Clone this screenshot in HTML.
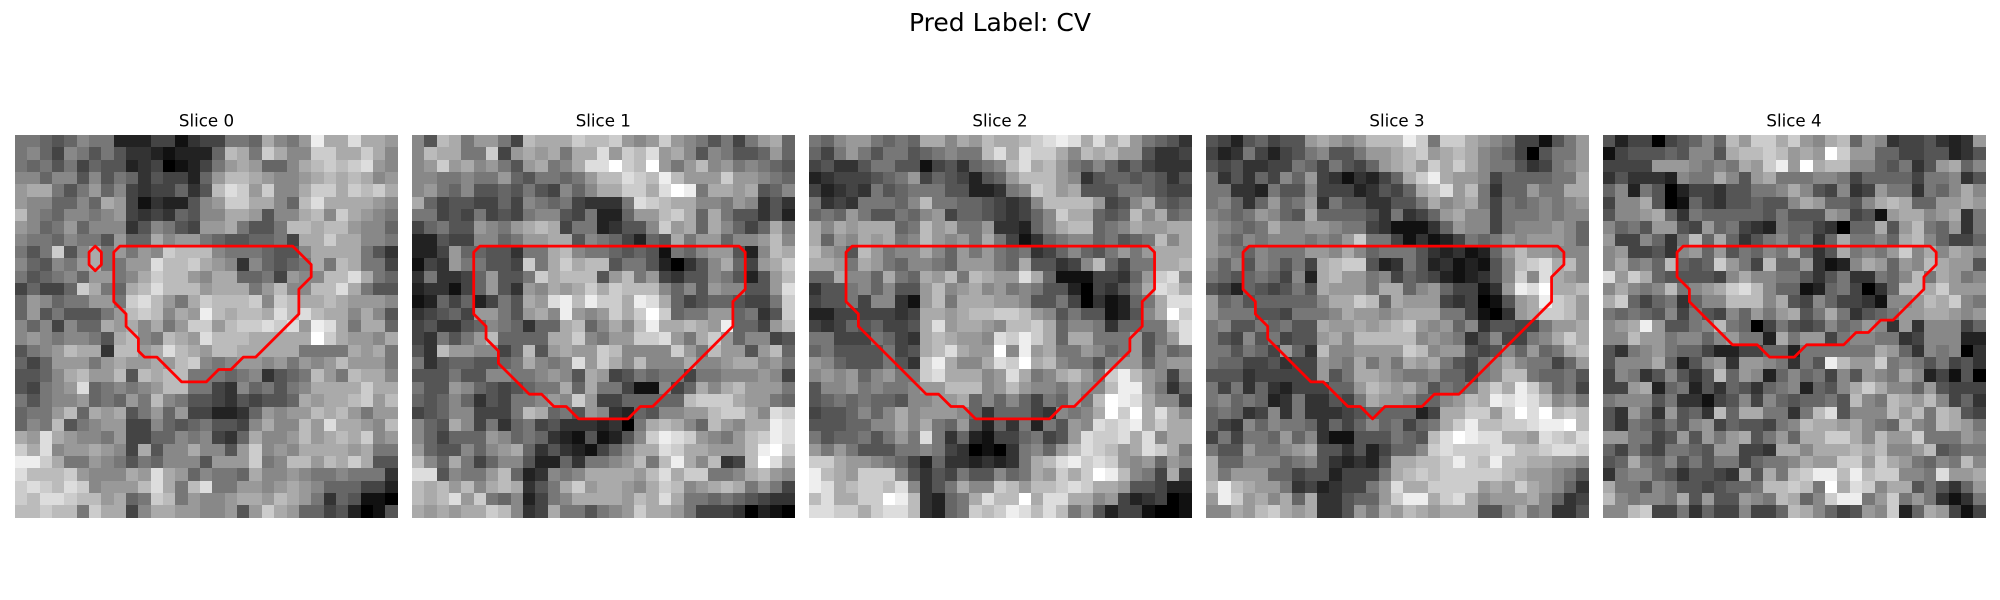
<!DOCTYPE html>
<html lang="en">
<head>
<meta charset="utf-8">
<title>Pred Label: CV</title>
<style>
html,body{margin:0;padding:0;background:#fff;width:2000px;height:600px;overflow:hidden}
svg{display:block}
text{font-family:"DejaVu Sans","Liberation Sans",sans-serif;fill:#000;text-anchor:middle}
</style>
</head>
<body>
<svg id="figure" width="2000" height="600" viewBox="0 0 2000 600" xmlns="http://www.w3.org/2000/svg">
<rect width="2000" height="600" fill="#fff"/>
<text x="1000" y="31" font-size="25px">Pred Label: CV</text>
<text x="206.5" y="126.5" font-size="16.67px">Slice 0</text>
<text x="603.3" y="126.5" font-size="16.67px">Slice 1</text>
<text x="1000" y="126.5" font-size="16.67px">Slice 2</text>
<text x="1397" y="126.5" font-size="16.67px">Slice 3</text>
<text x="1794" y="126.5" font-size="16.67px">Slice 4</text>
</svg>
<script>
const slice0 = [
[7,7,6,5,6,8,7,7,2,2,2,4,4,1,3,4,4,7,7,6,10,8,7,9,14,10,10,13,10,10,9],
[7,8,6,4,8,7,5,7,5,3,3,2,1,2,2,2,6,11,10,7,12,10,8,8,12,12,10,10,12,10,8],
[7,6,7,5,7,4,6,5,5,2,3,4,0,1,2,4,7,9,10,9,6,6,8,10,11,12,11,12,13,9,8],
[8,8,6,8,8,5,8,5,7,6,3,5,4,4,2,6,9,11,11,10,9,8,8,9,10,11,10,11,10,8,9],
[9,10,10,7,5,7,9,6,8,4,3,4,4,6,3,5,11,13,12,9,12,8,8,10,12,12,10,12,11,12,10],
[9,8,8,6,6,8,6,10,9,4,1,3,2,2,5,8,9,12,12,10,10,8,6,11,13,10,10,10,10,9,8],
[11,8,7,6,8,8,7,8,9,4,3,4,3,6,5,8,8,10,10,9,5,8,8,10,11,8,12,10,9,8,7],
[9,8,6,7,9,6,8,8,8,3,5,8,7,5,4,9,9,10,7,5,5,7,11,11,10,11,11,9,8,8,6],
[8,7,7,6,8,7,7,5,9,6,6,10,8,9,9,7,6,5,5,6,6,7,4,10,10,12,10,10,8,8,7],
[7,5,7,12,5,8,10,7,9,7,9,8,12,11,11,11,8,7,7,7,6,5,5,8,10,10,10,10,7,5,3],
[8,6,5,8,7,9,10,7,7,9,9,13,11,11,12,10,9,8,3,8,6,5,6,7,10,7,11,10,7,7,4],
[7,5,6,7,8,6,9,9,7,8,10,12,11,11,9,8,10,10,6,6,7,4,9,8,8,11,11,13,10,7,6],
[4,6,4,4,6,12,10,7,6,10,11,13,11,11,11,9,10,10,10,7,9,11,8,8,11,11,13,10,7,5,5],
[6,9,8,6,7,7,9,9,7,12,13,11,9,7,10,12,11,11,11,12,8,12,11,10,10,11,10,9,9,9,8],
[6,9,5,7,5,5,5,7,9,11,12,11,8,10,9,14,11,10,11,11,10,13,11,13,11,10,10,8,10,8,5],
[8,6,8,4,8,6,6,10,9,10,8,10,7,9,12,12,9,11,12,12,13,12,13,9,14,13,10,7,10,10,6],
[8,9,8,7,8,8,7,5,10,11,8,7,11,10,9,13,11,11,11,10,10,10,10,10,15,12,10,9,9,8,10],
[5,7,8,9,11,10,10,3,11,11,9,10,13,11,10,9,11,11,10,10,10,10,10,7,7,7,7,10,9,10,7],
[6,4,6,9,9,9,7,9,10,9,9,10,9,11,12,8,7,8,9,9,8,9,7,9,8,9,11,9,9,9,7],
[5,5,6,8,10,11,9,9,11,5,11,10,11,11,7,7,7,6,7,8,3,5,6,7,11,9,7,11,10,10,8],
[5,4,7,8,9,13,6,7,8,7,8,9,11,11,7,7,4,3,8,6,7,5,7,8,10,10,10,10,12,10,10],
[7,5,7,8,8,9,6,7,6,9,7,11,8,7,5,5,4,3,5,4,5,5,6,10,9,10,10,11,12,9,11],
[6,7,7,9,11,6,10,9,10,5,7,9,6,9,4,4,2,2,3,6,9,8,9,9,11,10,11,9,7,9,9],
[6,8,7,11,5,7,8,9,9,4,4,8,6,5,6,7,5,5,4,8,10,8,8,11,9,13,10,10,9,8,11],
[10,9,13,10,9,8,8,7,9,4,4,6,6,8,7,8,4,3,6,10,8,8,9,11,9,10,11,10,12,8,9],
[12,10,13,8,9,9,10,9,8,4,10,5,8,8,10,8,8,5,9,12,8,9,8,10,10,10,10,9,10,7,7],
[14,14,12,10,7,7,9,8,7,5,7,6,8,8,8,5,9,9,9,12,7,8,11,11,9,11,10,12,10,5,5],
[13,11,11,11,12,9,8,8,8,10,9,13,10,9,6,8,7,7,6,10,8,8,9,8,7,7,8,7,7,7,3],
[12,13,12,11,13,12,8,9,9,9,11,13,10,7,11,13,7,7,9,9,8,9,10,9,8,6,6,6,4,4,2],
[12,11,13,13,12,11,11,9,10,6,7,12,11,7,9,8,8,9,10,10,9,11,10,9,7,3,6,5,1,1,0],
[11,11,12,11,11,7,12,10,10,4,8,10,10,9,9,8,8,9,5,9,12,10,9,6,6,4,5,2,0,1,5]
];
const slice1 = [
[8,5,11,10,7,9,9,7,4,11,10,10,10,12,11,11,12,9,8,9,12,9,8,7,5,7,4,7,9,10,6],
[8,11,10,10,7,7,12,4,9,10,9,10,7,10,10,13,9,12,11,13,9,10,8,5,8,7,5,5,6,9,6],
[8,9,12,9,10,8,9,7,5,9,10,7,8,10,13,13,15,12,11,15,9,7,9,11,8,9,7,8,7,6,5],
[8,8,7,7,8,7,7,9,6,5,7,7,6,7,9,11,11,13,12,11,14,11,9,9,9,12,9,9,8,7,6],
[8,9,7,6,8,5,5,6,5,7,5,4,8,6,8,10,10,12,12,10,13,15,14,7,10,10,9,10,5,6,8],
[10,6,4,5,5,4,4,6,4,8,7,6,7,4,3,3,3,7,13,12,11,10,10,8,8,7,9,8,3,5,3],
[7,7,4,5,4,7,4,5,4,7,8,8,5,4,7,2,2,6,9,9,11,12,10,6,10,7,5,5,3,5,2],
[4,6,7,5,5,9,8,7,9,10,11,10,4,7,7,2,3,5,5,8,12,9,10,6,10,8,6,4,6,10,7],
[2,2,5,4,4,8,8,6,7,9,9,10,10,5,8,7,6,4,2,6,5,10,7,9,9,6,8,8,9,11,8],
[2,2,4,9,6,6,5,5,3,7,7,10,11,8,7,7,6,5,6,5,1,7,6,8,9,9,5,2,8,11,10],
[1,4,3,9,7,7,5,5,4,12,7,10,12,10,11,11,5,7,7,5,2,0,3,5,8,10,6,4,9,10,12],
[3,7,3,3,4,6,9,5,5,7,12,10,11,11,11,5,9,11,7,9,4,3,5,5,8,7,5,2,5,9,11],
[2,3,3,1,4,6,9,5,3,9,8,10,9,10,12,10,12,11,11,11,8,6,8,5,9,8,8,5,5,9,13],
[1,2,6,4,6,2,4,7,5,10,9,13,14,11,14,12,12,10,14,13,10,6,4,5,6,6,5,4,4,7,12],
[3,4,5,6,4,9,9,7,5,9,10,8,14,9,8,9,12,10,12,15,12,6,7,7,9,9,6,7,3,5,12],
[4,5,3,3,5,6,8,7,6,3,6,6,10,11,6,8,10,8,11,14,10,10,11,10,9,14,6,6,4,9,11],
[4,3,7,5,7,9,11,6,6,6,6,10,10,12,8,7,9,9,12,12,13,9,7,10,12,9,6,8,8,4,5],
[5,3,11,9,9,8,8,4,6,11,5,9,10,9,9,12,11,8,8,8,8,12,9,7,11,9,9,5,9,11,6],
[7,3,5,6,6,5,5,6,7,10,8,7,8,13,9,12,10,8,11,8,8,8,10,8,8,9,10,10,8,9,7],
[5,5,5,7,5,5,8,8,7,7,8,9,8,5,10,9,4,5,7,6,7,7,4,7,7,8,8,8,9,8,4],
[7,5,5,9,8,6,5,4,5,6,7,7,10,6,10,7,7,4,1,1,8,4,6,10,8,10,11,9,9,9,7],
[6,5,6,8,6,3,5,4,7,7,8,9,8,12,9,4,4,6,6,6,6,6,11,12,12,12,10,9,9,7,6],
[4,5,6,8,8,4,4,4,7,11,10,6,7,5,9,8,3,2,6,5,8,8,9,9,11,12,12,10,8,13,12],
[8,6,5,10,8,4,7,3,6,7,4,5,3,3,3,2,3,0,7,10,11,10,8,6,11,9,8,10,10,14,13],
[8,6,4,6,6,6,9,8,6,7,6,3,2,1,5,1,2,5,8,12,14,13,12,9,8,7,9,11,12,14,13],
[9,6,5,5,8,6,8,9,10,6,3,5,3,2,1,4,6,8,10,10,13,12,10,10,9,9,9,11,14,15,12],
[11,8,6,10,7,4,6,8,8,5,2,2,6,3,7,7,8,9,11,7,11,14,10,8,11,3,4,11,15,13,10],
[13,13,5,8,7,7,9,11,6,2,3,8,7,8,10,10,10,10,9,11,13,10,12,12,7,7,8,10,11,9,8],
[11,10,11,9,11,8,10,11,10,3,5,7,10,12,9,10,10,9,8,10,12,11,8,9,10,11,10,7,9,7,4],
[11,10,11,13,9,12,7,6,8,2,4,7,8,10,10,10,10,9,11,10,13,10,7,7,6,7,6,5,4,3,3],
[10,9,10,9,10,10,12,11,8,3,4,10,7,7,5,7,8,9,12,10,10,9,7,4,4,4,3,0,2,1,0]
];
const slice2 = [
[7,6,8,9,9,7,6,7,6,10,10,8,10,9,11,10,10,11,12,13,14,13,10,13,10,12,9,7,6,5,3],
[6,4,7,9,7,5,7,7,5,6,7,8,7,7,11,13,10,13,12,12,10,8,11,10,11,9,9,5,3,3,4],
[4,5,3,3,5,7,7,5,5,1,4,5,3,6,7,8,11,13,10,11,9,7,6,8,6,4,6,4,3,3,3],
[2,3,4,4,4,5,6,7,9,4,6,5,4,2,5,6,9,11,11,11,9,8,3,5,6,6,5,6,5,3,5],
[4,2,3,4,3,7,5,6,7,7,7,5,5,2,2,3,7,8,12,11,9,10,5,5,5,7,7,6,5,4,4],
[7,3,4,3,7,7,7,6,8,11,7,7,6,6,5,4,3,4,8,11,11,11,11,9,4,5,8,10,6,5,6],
[6,7,6,9,7,5,5,7,6,8,9,4,6,6,5,4,3,4,6,8,12,10,10,6,5,6,11,8,10,6,7],
[10,8,10,9,10,10,10,6,7,11,9,10,7,7,9,3,3,2,6,8,10,11,11,6,7,8,10,9,9,10,10],
[10,6,9,8,10,9,10,7,8,11,9,8,9,7,10,7,4,1,3,6,7,8,8,6,7,5,6,7,11,8,10],
[11,9,8,5,11,9,7,8,8,10,8,6,9,7,9,7,6,7,3,4,6,8,6,5,7,9,7,9,10,10,10],
[10,10,9,7,10,9,7,6,8,8,7,6,9,9,9,7,6,10,5,5,3,4,8,11,6,4,7,7,10,10,11],
[6,6,10,8,8,6,10,7,6,10,9,11,7,11,10,9,9,13,10,6,1,1,1,4,4,3,6,9,12,13,8],
[3,5,5,7,8,6,8,5,5,9,11,8,9,10,8,9,7,8,7,5,5,2,0,4,3,5,7,10,13,12,10],
[4,5,5,7,4,8,8,3,1,9,11,7,10,10,10,9,9,8,5,5,7,4,0,3,1,2,6,7,10,13,13],
[2,2,4,4,4,4,4,3,4,10,10,9,10,11,11,12,12,11,9,8,5,7,5,5,1,2,5,8,10,15,12],
[4,3,4,6,5,6,4,4,5,10,13,9,10,10,9,8,11,11,12,10,6,8,8,7,3,6,6,7,7,11,13],
[7,7,4,4,4,7,6,4,3,10,11,10,9,9,8,13,12,14,12,10,6,10,10,7,7,7,9,5,7,9,13],
[6,7,5,5,5,5,7,4,5,10,11,13,10,9,9,15,8,14,9,10,7,7,9,8,6,7,9,5,8,6,7],
[9,8,6,5,5,5,7,5,3,12,14,10,8,8,10,13,12,15,10,11,8,7,7,5,8,9,9,6,8,9,9],
[8,9,8,9,6,8,9,7,7,12,13,10,10,10,8,9,13,10,7,8,10,11,9,7,12,14,11,9,8,4,8],
[5,8,8,9,7,8,7,7,8,9,9,11,11,11,8,9,11,9,8,8,7,9,8,8,11,14,14,9,7,3,6],
[5,6,7,6,7,6,6,5,8,8,9,9,10,6,8,6,8,6,4,7,6,9,7,11,15,14,13,10,8,8,4],
[4,5,5,6,8,6,8,10,8,9,9,9,8,6,3,6,6,6,4,3,8,7,8,10,15,12,15,10,13,10,8],
[5,5,5,6,6,8,8,10,8,10,7,6,9,5,2,6,3,7,2,7,5,9,8,13,12,13,14,10,12,10,10],
[7,5,6,6,7,5,7,9,7,13,7,3,6,2,1,4,4,6,7,4,5,9,13,12,12,13,10,13,8,10,10],
[9,7,9,7,5,5,5,7,7,8,7,4,3,0,1,0,3,7,8,6,9,11,13,12,11,9,10,13,12,10,7],
[12,12,10,9,9,8,7,6,4,2,6,3,3,2,3,2,3,7,10,11,13,14,12,13,12,9,8,9,6,9,8],
[14,11,10,9,12,12,12,8,5,3,5,4,7,5,5,8,6,7,10,9,12,10,12,15,14,11,8,7,4,10,4],
[14,13,10,11,12,12,11,13,8,3,5,7,10,8,8,12,11,9,11,11,12,13,12,10,10,9,5,5,4,2,2],
[11,13,10,10,12,12,15,14,11,3,2,6,7,10,13,11,11,15,10,13,13,10,10,8,9,4,2,3,4,0,1],
[13,13,12,12,10,12,13,13,11,3,2,6,7,12,11,12,14,13,11,13,11,7,9,5,2,4,4,1,0,0,1]
];
const slice3 = [
[5,4,2,5,6,4,5,5,9,10,9,8,9,11,11,11,14,12,7,12,12,10,9,8,7,4,4,1,5,7,9],
[4,2,3,7,4,2,4,5,7,8,5,5,7,9,9,10,11,12,9,10,11,10,8,7,6,4,0,5,7,7,9],
[5,4,5,3,3,4,4,7,6,4,7,5,4,6,9,10,11,9,12,10,12,10,8,7,7,5,3,4,7,8,9],
[7,3,5,3,6,4,8,6,9,4,3,1,3,2,4,6,10,12,14,10,9,9,8,4,6,6,6,6,7,7,10],
[7,7,3,3,2,7,5,5,8,4,4,4,2,3,5,4,6,10,11,13,9,11,7,3,6,6,9,7,7,10,10],
[7,8,6,3,6,9,6,7,9,3,7,5,5,3,3,5,5,7,10,8,9,10,7,4,7,6,7,8,7,8,9],
[8,7,6,7,9,8,6,5,10,6,6,6,6,5,3,7,3,4,6,9,10,8,8,4,7,7,7,8,7,8,8],
[9,8,7,6,7,10,8,8,9,9,8,7,7,4,3,1,1,1,3,6,9,8,8,4,7,8,8,8,9,8,6],
[9,7,6,8,7,8,8,8,7,8,7,9,12,7,7,4,1,3,1,2,4,7,6,7,9,8,9,9,9,8,6],
[9,8,7,6,8,7,7,7,9,9,8,10,8,6,7,7,7,5,3,2,3,1,2,6,9,11,9,9,8,8,8],
[8,6,8,5,8,7,5,7,4,10,11,12,12,5,2,3,7,5,2,3,1,2,1,5,8,11,12,13,10,11,8],
[7,6,5,6,7,6,4,8,2,10,11,9,9,7,8,4,6,5,4,2,1,2,3,5,8,12,8,13,10,9,8],
[5,4,2,6,5,4,5,7,5,10,9,9,9,7,10,10,6,8,9,6,4,4,1,3,9,14,13,15,10,10,11],
[9,6,7,5,6,6,6,6,6,8,10,10,12,11,6,10,9,9,9,4,3,4,0,1,5,9,10,14,12,11,9],
[9,7,7,7,5,5,4,7,7,7,8,10,9,9,8,9,10,10,10,7,7,4,1,0,3,9,10,12,12,11,9],
[7,8,5,5,7,6,7,5,5,10,9,9,10,9,10,11,12,9,8,9,6,8,3,5,5,4,4,7,9,9,10],
[7,5,4,8,5,7,4,5,5,9,10,8,11,11,11,11,11,8,9,8,7,3,5,8,4,4,7,8,10,12,10],
[7,7,5,7,6,4,9,6,3,11,8,8,9,9,9,9,12,11,8,9,9,5,4,5,8,6,9,6,7,10,11],
[7,6,6,4,4,5,3,4,4,9,8,7,10,7,9,7,10,9,10,7,5,4,7,8,10,8,7,7,4,6,9],
[5,5,5,3,4,4,4,4,4,9,5,7,10,10,9,8,7,7,8,6,6,4,7,8,11,11,7,6,6,7,5],
[7,4,7,3,6,3,2,4,4,4,6,6,9,11,10,9,10,8,5,7,6,7,10,12,10,14,12,9,6,7,4],
[7,8,6,7,6,2,3,7,3,3,5,4,7,10,9,9,8,6,6,8,9,11,10,14,13,14,13,11,8,9,7],
[6,7,6,3,4,8,3,7,3,3,3,4,5,6,6,6,6,2,4,10,10,12,12,9,12,15,13,15,11,12,11],
[6,4,3,8,6,8,7,7,6,3,6,4,6,8,6,7,4,6,7,10,12,14,11,11,12,12,13,14,14,15,11],
[4,7,4,7,7,6,9,6,8,3,1,1,5,5,5,7,6,5,11,13,15,14,13,13,10,10,9,13,12,11,13],
[7,5,5,9,7,7,8,9,10,5,5,3,5,2,4,6,6,8,12,13,12,12,12,13,13,11,11,12,13,13,12],
[10,6,6,8,8,8,6,7,8,5,3,2,3,2,5,10,10,11,11,12,14,12,11,14,11,11,10,10,9,9,8],
[10,7,9,9,9,6,6,4,5,5,2,4,4,4,7,10,11,12,11,12,12,12,12,12,11,10,9,9,8,7,5],
[11,14,11,10,9,9,7,3,4,2,3,4,4,7,9,13,10,10,12,12,12,12,9,10,9,12,10,9,8,6,3],
[9,14,12,9,10,8,10,6,10,3,3,5,6,6,9,12,14,14,10,12,13,10,8,9,9,9,10,8,6,3,4],
[8,8,10,9,11,12,10,9,10,3,3,5,9,7,10,9,11,10,9,10,10,10,5,5,8,10,7,8,3,3,5]
];
const slice4 = [
[5,2,4,4,0,4,5,6,8,6,11,9,12,12,10,12,9,8,10,11,6,9,8,3,4,4,5,3,2,3,9],
[1,4,5,5,5,6,5,8,8,5,10,11,11,12,11,9,10,9,15,12,9,9,6,6,4,4,5,5,2,3,5],
[4,4,4,4,9,9,9,8,7,8,7,10,9,12,14,9,15,10,11,11,8,8,6,5,7,3,5,9,10,6,8],
[3,5,3,3,3,2,8,7,7,10,8,5,9,10,7,7,7,8,8,7,4,6,6,6,6,4,7,7,8,3,5],
[6,8,2,7,5,0,2,4,4,3,5,5,7,7,8,10,8,5,4,8,3,4,9,7,7,3,7,6,8,10,8],
[4,8,8,10,5,0,1,6,4,3,5,5,6,5,5,8,10,9,6,6,5,8,10,11,10,6,6,9,9,10,9],
[5,8,8,9,10,6,3,7,6,6,6,6,6,5,7,5,5,5,9,8,4,5,1,9,10,10,8,9,10,3,7],
[8,6,7,5,9,9,5,4,9,6,7,4,3,2,7,6,6,4,3,0,6,6,10,5,9,11,7,6,9,3,7],
[9,4,4,8,6,3,7,11,6,10,6,3,5,7,8,6,7,3,6,10,7,7,8,6,10,11,8,6,4,4,6],
[8,9,4,4,5,3,8,9,6,9,5,7,6,8,7,10,6,3,5,10,7,8,7,9,12,8,10,8,10,9,8],
[8,10,7,8,6,11,6,5,6,12,9,7,4,11,6,6,9,3,1,2,8,10,9,6,9,8,11,10,9,9,5],
[13,9,12,10,6,5,5,5,5,4,8,10,8,8,7,7,5,3,5,7,3,3,7,6,8,11,7,10,9,7,8],
[8,10,8,7,8,11,7,8,9,10,12,13,11,8,6,6,1,2,6,7,4,0,3,6,11,11,10,12,9,9,9],
[10,12,6,4,6,7,3,6,8,8,11,11,11,8,10,5,4,8,6,4,4,3,1,8,8,9,11,10,12,8,7],
[7,6,7,6,5,8,4,7,5,4,8,6,9,7,9,10,5,7,10,7,3,5,6,7,9,9,10,10,9,8,9],
[8,9,10,14,9,5,5,7,8,11,7,6,0,4,7,5,4,5,8,6,7,9,8,3,9,3,8,8,8,4,6],
[8,8,11,9,9,7,8,8,6,8,9,7,7,2,10,7,9,9,4,7,8,8,7,7,3,4,8,8,8,2,2],
[5,3,7,8,9,7,6,6,4,2,2,4,4,6,6,2,7,7,7,7,7,7,10,9,6,3,8,7,8,0,3],
[5,8,8,8,10,6,2,5,8,9,3,9,9,8,7,3,7,5,14,11,9,9,12,7,8,7,5,7,4,5,3],
[4,8,7,3,5,8,5,3,5,11,6,9,8,2,6,8,6,7,4,8,5,9,8,7,10,8,2,4,1,5,0],
[4,4,9,10,2,6,7,2,5,3,6,5,3,6,7,8,2,6,5,8,10,12,10,8,8,6,9,5,4,4,4],
[7,8,8,8,5,7,3,3,1,4,5,8,4,8,6,5,6,6,7,5,11,8,7,11,10,9,11,8,4,6,3],
[5,3,9,7,3,9,5,6,3,11,6,10,10,7,7,3,7,11,13,5,8,8,8,11,9,11,7,11,10,5,4],
[5,3,7,6,5,7,5,8,9,4,6,5,5,4,7,8,11,10,10,9,10,8,7,6,11,8,7,11,10,9,7],
[9,9,7,7,4,5,9,5,9,7,9,10,5,7,9,6,10,10,12,12,10,8,11,9,9,12,7,7,7,9,8],
[6,4,7,5,4,7,7,6,5,9,9,4,4,3,10,10,8,10,10,10,11,10,11,8,8,9,11,5,6,7,7],
[5,6,10,7,6,8,5,7,5,7,7,4,6,7,7,8,10,9,9,12,12,9,12,10,9,7,6,8,7,11,8],
[3,7,8,8,6,5,3,5,5,4,3,10,5,10,7,11,12,14,14,11,14,11,12,12,8,8,7,13,9,9,10],
[10,7,7,5,8,7,5,5,4,5,6,6,7,11,11,12,11,7,15,10,13,12,8,10,10,5,7,5,3,6,9],
[11,8,7,8,8,7,10,5,9,5,5,9,8,7,11,10,6,8,12,14,14,7,9,12,7,9,7,3,1,3,7],
[8,8,11,12,4,4,7,3,6,4,4,8,4,4,6,11,10,8,6,4,5,9,8,12,2,6,10,9,4,1,4]
];
const contour0a = [[8.5,9],[22.5,9],[24,10.5],[24,11.5],[23,12.5],[23,14.5],[19.5,18],[18.5,18],[17.5,19],[16.5,19],[15.5,20],[13.5,20],[11.5,18],[10.5,18],[10,17.5],[10,16.5],[9,15.5],[9,14.5],[8,13.5],[8,9.5]];
const contour0b = [[6.5,9],[7,9.5],[7,10.5],[6.5,11],[6,10.5],[6,9.5]];
const contour1 = [[5.5,9],[26.5,9],[27,9.5],[27,12.5],[26,13.5],[26,15.5],[19.5,22],[18.5,22],[17.5,23],[13.5,23],[12.5,22],[11.5,22],[10.5,21],[9.5,21],[7,18.5],[7,17.5],[6,16.5],[6,15.5],[5,14.5],[5,9.5]];
const contour2 = [[3.5,9],[27.5,9],[28,9.5],[28,12.5],[27,13.5],[27,15.5],[26,16.5],[26,17.5],[21.5,22],[20.5,22],[19.5,23],[13.5,23],[12.5,22],[11.5,22],[10.5,21],[9.5,21],[4,15.5],[4,14.5],[3,13.5],[3,9.5]];
const contour3 = [[3.5,9],[28.5,9],[29,9.5],[29,10.5],[28,11.5],[28,13.5],[20.5,21],[18.5,21],[17.5,22],[14.5,22],[13.5,23],[12.5,22],[11.5,22],[9.5,20],[8.5,20],[5,16.5],[5,15.5],[4,14.5],[4,13.5],[3,12.5],[3,9.5]];
const contour4 = [[6.5,9],[26.5,9],[27,9.5],[27,10.5],[26,11.5],[26,12.5],[23.5,15],[22.5,15],[21.5,16],[20.5,16],[19.5,17],[16.5,17],[15.5,18],[13.5,18],[12.5,17],[10.5,17],[7,13.5],[7,12.5],[6,11.5],[6,9.5]];

const slices = [slice0, slice1, slice2, slice3, slice4];
const contours = [[contour0a, contour0b], [contour1], [contour2], [contour3], [contour4]];

const SVG_NS = 'http://www.w3.org/2000/svg';
const figure = document.getElementById('figure');
const GRID = 31, PANEL_LEFT = 15, PANEL_STEP = 397, PANEL_TOP = 135, PANEL_SIZE = 382.6;

function xAxis(panel, k) { return PANEL_LEFT + panel * PANEL_STEP + k * PANEL_SIZE / GRID; }
function yAxis(k) { return PANEL_TOP + k * PANEL_SIZE / GRID; }
function grayScale(v) { const g = Math.max(0, Math.min(255, Math.round(v * 17))); return 'rgb(' + g + ',' + g + ',' + g + ')'; }

slices.forEach(function (rows, p) {
  const group = document.createElementNS(SVG_NS, 'g');
  
  
  group.setAttribute('shape-rendering', 'crispEdges');
  rows.forEach(function (row, r) {
    row.forEach(function (v, c) {
      const cell = document.createElementNS(SVG_NS, 'rect');
      
      
      const x0 = Math.round(xAxis(p, c)), x1 = Math.round(xAxis(p, c + 1));
      const y0 = Math.round(yAxis(r)), y1 = Math.round(yAxis(r + 1));
      cell.setAttribute('x', x0);
      cell.setAttribute('y', y0);
      cell.setAttribute('width', x1 - x0);
      cell.setAttribute('height', y1 - y0);
      cell.setAttribute('fill', grayScale(v));
      group.appendChild(cell);
    });
  });
  figure.appendChild(group);
  contours[p].forEach(function (verts, i) {
    const poly = document.createElementNS(SVG_NS, 'polygon');
    
    
    poly.setAttribute('points', verts.map(function (v) { return xAxis(p, v[0]).toFixed(2) + ',' + yAxis(v[1]).toFixed(2); }).join(' '));
    poly.setAttribute('fill', 'none');
    poly.setAttribute('stroke', '#ff0000');
    poly.setAttribute('stroke-width', '2.78');
    poly.setAttribute('stroke-linejoin', 'round');
    figure.appendChild(poly);
  });
});
</script>
</body>
</html>
